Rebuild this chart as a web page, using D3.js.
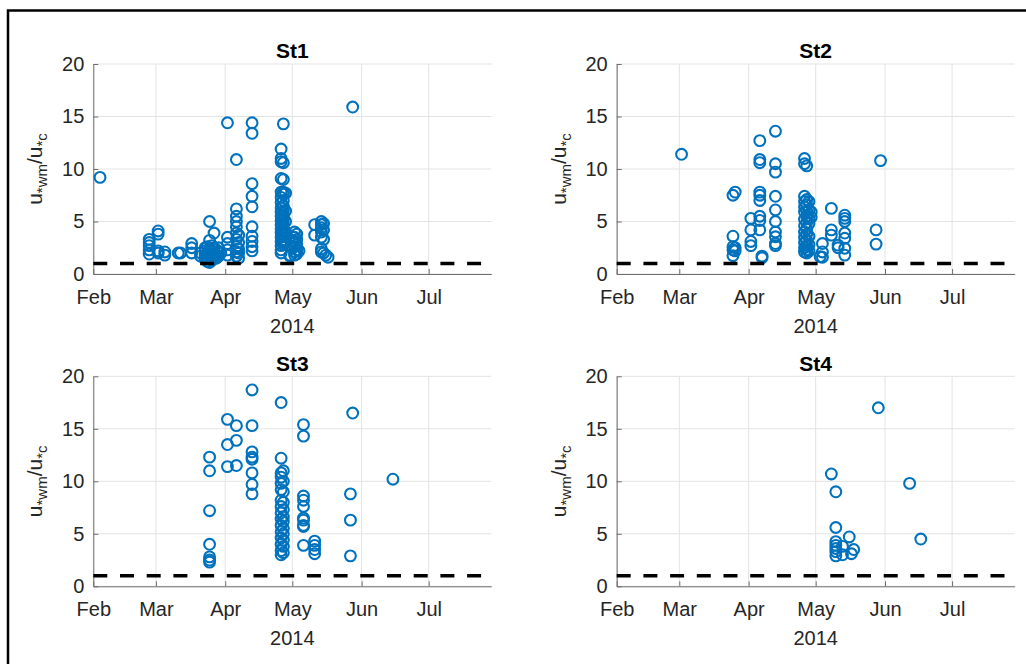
<!DOCTYPE html>
<html>
<head>
<meta charset="utf-8">
<script src="https://cdn.jsdelivr.net/npm/d3@7"></script>
<style>
  body { margin: 0; background: #fff; }
  svg { display: block; font-family: "Liberation Sans", Arial, Helvetica, sans-serif; }
</style>
</head>
<body>
<svg id="chart"></svg>
<script>
// tick labels / ranges
const monthTicks = ["2014-02-01", "2014-03-01", "2014-04-01", "2014-05-01", "2014-06-01", "2014-07-01"];
const xStart = "2014-02-01";
const xEnd = "2014-07-29";
const yTicks = [0, 5, 10, 15, 20];
const threshold = 1;
const stationNames = ["St1", "St2", "St3", "St4"];

// St1
const st1Dates = [
  "2014-02-04",
  "2014-02-26", "2014-02-26", "2014-02-26", "2014-02-26", "2014-02-26",
  "2014-03-02", "2014-03-02", "2014-03-02", "2014-03-02",
  "2014-03-05", "2014-03-05",
  "2014-03-11", "2014-03-12",
  "2014-03-17", "2014-03-17", "2014-03-17",
  "2014-03-21", "2014-03-21",
  "2014-03-23", "2014-03-23", "2014-03-23", "2014-03-23",
  "2014-03-24", "2014-03-24", "2014-03-24", "2014-03-24",
  "2014-03-25", "2014-03-25", "2014-03-25", "2014-03-25", "2014-03-25", "2014-03-25",
  "2014-03-26", "2014-03-26", "2014-03-26", "2014-03-26",
  "2014-03-27", "2014-03-27", "2014-03-27", "2014-03-27",
  "2014-03-28", "2014-03-28", "2014-03-28",
  "2014-03-29", "2014-03-29", "2014-03-29",
  "2014-03-30",
  "2014-04-02", "2014-04-02", "2014-04-02", "2014-04-02", "2014-04-02",
  "2014-04-06", "2014-04-06", "2014-04-06", "2014-04-06", "2014-04-06", "2014-04-06", "2014-04-06", "2014-04-06", "2014-04-06", "2014-04-06",
  "2014-04-07", "2014-04-07", "2014-04-07", "2014-04-07", "2014-04-07",
  "2014-04-13", "2014-04-13", "2014-04-13", "2014-04-13", "2014-04-13", "2014-04-13", "2014-04-13", "2014-04-13", "2014-04-13", "2014-04-13",
  "2014-04-26", "2014-04-26", "2014-04-26", "2014-04-26", "2014-04-26", "2014-04-26", "2014-04-26", "2014-04-26", "2014-04-26", "2014-04-26",
  "2014-04-26", "2014-04-26", "2014-04-26", "2014-04-26", "2014-04-26", "2014-04-26", "2014-04-26", "2014-04-26", "2014-04-26",
  "2014-04-27", "2014-04-27", "2014-04-27", "2014-04-27", "2014-04-27", "2014-04-27", "2014-04-27", "2014-04-27",
  "2014-04-27", "2014-04-27", "2014-04-27", "2014-04-27", "2014-04-27", "2014-04-27", "2014-04-27", "2014-04-27",
  "2014-04-28", "2014-04-28", "2014-04-28", "2014-04-28", "2014-04-28",
  "2014-04-30", "2014-04-30",
  "2014-05-01", "2014-05-01",
  "2014-05-02", "2014-05-02", "2014-05-02", "2014-05-02", "2014-05-02", "2014-05-02",
  "2014-05-03", "2014-05-03", "2014-05-03", "2014-05-03", "2014-05-03",
  "2014-05-04",
  "2014-05-11", "2014-05-11",
  "2014-05-14", "2014-05-14", "2014-05-14", "2014-05-14", "2014-05-14", "2014-05-14", "2014-05-14",
  "2014-05-15", "2014-05-15", "2014-05-15", "2014-05-15",
  "2014-05-16", "2014-05-17",
  "2014-05-28"
];
const st1Values = [
  9.2,
  3.3, 3.0, 2.7, 2.3, 1.9,
  4.1, 3.8, 2.2, 2.0,
  2.1, 1.8,
  2.0, 2.0,
  2.9, 2.5, 2.0,
  2.0, 1.7,
  2.5, 2.2, 1.8, 1.4,
  2.6, 2.0, 1.6, 1.2,
  5.0, 3.2, 2.4, 1.9, 1.5, 1.1,
  2.7, 2.2, 1.7, 1.3,
  3.9, 2.5, 2.0, 1.6,
  2.3, 1.8, 1.5,
  2.5, 2.1, 1.7,
  2.0,
  14.4, 3.5, 2.9, 2.3, 1.8,
  10.9, 6.2, 5.5, 5.0, 4.5, 3.9, 3.3, 2.6, 2.1, 1.7,
  3.7, 3.0, 2.4, 2.0, 1.5,
  14.4, 13.4, 8.6, 7.4, 6.4, 4.5, 3.6, 3.1, 2.6, 2.2,
  11.9, 11.0, 10.7, 9.1, 7.8, 7.3, 6.8, 6.3, 5.9, 5.5,
  5.1, 4.7, 4.3, 3.9, 3.5, 3.1, 2.7, 2.3, 2.0,
  14.3, 10.6, 9.0, 7.8, 7.6, 7.0, 6.5, 6.0,
  5.6, 5.2, 4.8, 4.4, 4.0, 3.6, 3.2, 2.8,
  7.7, 6.0, 5.0, 4.0, 3.0,
  1.8, 1.7,
  3.2, 2.5,
  4.0, 3.5, 3.1, 2.6, 2.1, 1.8,
  3.8, 3.3, 2.8, 2.3, 1.9,
  2.2,
  4.7, 3.7,
  5.0, 4.7, 4.4, 4.0, 3.5, 2.4, 2.1,
  4.8, 4.2, 3.3, 2.0,
  1.8, 1.6,
  15.9
];

// St2
const st2Dates = [
  "2014-03-02",
  "2014-03-25", "2014-03-25", "2014-03-25", "2014-03-25", "2014-03-25",
  "2014-03-26", "2014-03-26", "2014-03-26",
  "2014-04-02", "2014-04-02", "2014-04-02", "2014-04-02",
  "2014-04-06", "2014-04-06", "2014-04-06", "2014-04-06", "2014-04-06", "2014-04-06", "2014-04-06", "2014-04-06", "2014-04-06",
  "2014-04-07", "2014-04-07",
  "2014-04-13", "2014-04-13", "2014-04-13", "2014-04-13", "2014-04-13", "2014-04-13", "2014-04-13", "2014-04-13", "2014-04-13", "2014-04-13",
  "2014-04-26", "2014-04-26", "2014-04-26", "2014-04-26", "2014-04-26", "2014-04-26", "2014-04-26",
  "2014-04-26", "2014-04-26", "2014-04-26", "2014-04-26", "2014-04-26", "2014-04-26",
  "2014-04-27", "2014-04-27", "2014-04-27", "2014-04-27", "2014-04-27", "2014-04-27",
  "2014-04-27", "2014-04-27", "2014-04-27", "2014-04-27", "2014-04-27", "2014-04-27",
  "2014-04-28", "2014-04-28", "2014-04-28", "2014-04-28", "2014-04-28", "2014-04-28", "2014-04-28",
  "2014-04-29", "2014-04-29",
  "2014-05-03", "2014-05-04", "2014-05-04", "2014-05-04",
  "2014-05-08", "2014-05-08", "2014-05-08",
  "2014-05-11", "2014-05-11",
  "2014-05-14", "2014-05-14", "2014-05-14", "2014-05-14", "2014-05-14", "2014-05-14", "2014-05-14",
  "2014-05-28", "2014-05-28",
  "2014-05-30"
];
const st2Values = [
  11.4,
  7.5, 3.6, 2.6, 2.3, 1.75,
  7.8, 2.5, 2.2,
  5.3, 4.2, 3.1, 2.7,
  12.7, 10.9, 10.6, 7.8, 7.5, 7.0, 5.5, 5.1, 4.2,
  1.7, 1.55,
  13.6, 10.5, 9.7, 7.4, 6.1, 5.0, 4.0, 3.55, 2.9, 2.7,
  11.0, 10.5, 7.4, 6.9, 6.4, 5.9,
  5.2, 4.6, 4.0, 3.5, 3.0, 2.5, 2.1,
  10.3, 7.1, 6.6, 6.0, 5.5, 4.9,
  4.3, 3.8, 3.2, 2.7, 2.3, 2.0,
  6.9, 6.1, 5.3, 4.8, 3.6, 2.8, 2.2,
  5.9, 5.4,
  1.65, 2.9, 2.1, 1.6,
  6.25, 4.2, 3.7,
  2.75, 2.5,
  5.6, 5.3, 5.0, 3.9, 3.4, 2.45, 1.8,
  4.2, 2.85,
  10.8
];

// St3
const st3Dates = [
  "2014-03-25", "2014-03-25", "2014-03-25", "2014-03-25", "2014-03-25", "2014-03-25", "2014-03-25",
  "2014-04-02", "2014-04-02", "2014-04-02",
  "2014-04-06", "2014-04-06", "2014-04-06",
  "2014-04-13", "2014-04-13", "2014-04-13", "2014-04-13", "2014-04-13", "2014-04-13", "2014-04-13", "2014-04-13",
  "2014-04-26", "2014-04-26", "2014-04-26", "2014-04-26", "2014-04-26", "2014-04-26", "2014-04-26", "2014-04-26",
  "2014-04-26", "2014-04-26", "2014-04-26", "2014-04-26", "2014-04-26", "2014-04-26", "2014-04-26", "2014-04-26",
  "2014-04-27", "2014-04-27", "2014-04-27", "2014-04-27", "2014-04-27", "2014-04-27",
  "2014-04-27", "2014-04-27", "2014-04-27", "2014-04-27", "2014-04-27", "2014-04-27",
  "2014-05-06", "2014-05-06", "2014-05-06", "2014-05-06", "2014-05-06", "2014-05-06", "2014-05-06", "2014-05-06", "2014-05-06", "2014-05-06",
  "2014-05-11", "2014-05-11", "2014-05-11", "2014-05-11",
  "2014-05-27", "2014-05-27", "2014-05-27",
  "2014-05-28",
  "2014-06-15"
];
const st3Values = [
  12.3, 11.0, 7.2, 4.0, 2.8, 2.5, 2.3,
  15.9, 13.5, 11.4,
  15.3, 13.9, 11.5,
  18.7, 15.3, 12.8, 12.3, 12.1, 10.8, 9.7, 8.8,
  17.5, 12.2, 10.8, 10.4, 9.8, 9.2, 8.2, 7.6,
  7.0, 6.4, 5.8, 5.2, 4.6, 4.0, 3.4, 3.0,
  11.0, 10.0, 9.0, 8.0, 7.3, 6.6,
  6.2, 5.5, 5.0, 4.4, 3.8, 3.2,
  15.4, 14.3, 8.6, 8.2, 7.6, 6.5, 6.3, 5.8, 5.7, 3.9,
  4.3, 3.9, 3.5, 3.1,
  8.8, 6.3, 2.9,
  16.5,
  10.2
];

// St4
const st4Dates = [
  "2014-05-08",
  "2014-05-10", "2014-05-10", "2014-05-10", "2014-05-10", "2014-05-10", "2014-05-10", "2014-05-10",
  "2014-05-13", "2014-05-13",
  "2014-05-16", "2014-05-17", "2014-05-18",
  "2014-05-29",
  "2014-06-12",
  "2014-06-17"
];
const st4Values = [
  10.7,
  9.0, 5.6, 4.25, 3.9, 3.6, 3.3, 2.9,
  3.8, 3.0,
  4.7, 3.1, 3.5,
  17.0,
  9.8,
  4.5
];

const W = 1026, H = 664;
const parse = d3.timeParse("%Y-%m-%d");
const svg = d3.select("#chart").attr("width", W).attr("height", H);

// figure frame
svg.append("path")
  .attr("d", "M8,664V10.5H1026")
  .attr("fill", "none")
  .attr("stroke", "#000")
  .attr("stroke-width", 2.5);

const pw = 398, ph = 210;
const panels = [
  { left: 93.3, top: 64, dates: st1Dates, values: st1Values },
  { left: 616.7, top: 64, dates: st2Dates, values: st2Values },
  { left: 93.3, top: 376.3, dates: st3Dates, values: st3Values },
  { left: 616.7, top: 376.3, dates: st4Dates, values: st4Values }
];

const x = d3.scaleTime().domain([parse(xStart), parse(xEnd)]).range([0, pw]);
const y = d3.scaleLinear().domain([0, 20]).range([ph, 0]);

panels.forEach((p, i) => {
  const g = svg.append("g").attr("transform", `translate(${p.left},${p.top})`);
  const months = monthTicks.map(parse);

  // grid
  g.append("g").selectAll("line").data(months).enter().append("line")
    .attr("x1", d => x(d)).attr("x2", d => x(d))
    .attr("y1", 0).attr("y2", ph)
    .attr("stroke", "#e3e3e3").attr("stroke-width", 1);
  g.append("g").selectAll("line").data(yTicks).enter().append("line")
    .attr("x1", 0).attr("x2", pw)
    .attr("y1", d => y(d)).attr("y2", d => y(d))
    .attr("stroke", "#e3e3e3").attr("stroke-width", 1);

  // axes
  const xAxis = d3.axisBottom(x).tickValues(months).tickFormat(d3.timeFormat("%b"))
    .tickSizeInner(-5).tickSizeOuter(0).tickPadding(15.8);
  const yAxis = d3.axisLeft(y).tickValues(yTicks).tickFormat(d3.format("d"))
    .tickSizeInner(-5).tickSizeOuter(0).tickPadding(9);

  const gx = g.append("g").attr("transform", `translate(0,${ph})`).call(xAxis);
  const gy = g.append("g").call(yAxis);
  [gx, gy].forEach(a => {
    a.select(".domain").attr("stroke", "#6e6e6e");
    a.selectAll(".tick line").attr("stroke", "#6e6e6e");
    a.selectAll(".tick text").attr("fill", "#262626")
      .style("font-size", "20px").style("font-family", '"Liberation Sans", Arial, sans-serif');
  });

  // points
  const pts = p.dates.map((d, k) => ({ date: parse(d), value: p.values[k] }));
  g.append("g").selectAll("circle").data(pts).enter().append("circle")
    .attr("cx", d => x(d.date))
    .attr("cy", d => y(d.value))
    .attr("r", 5.4)
    .attr("fill", "none")
    .attr("stroke", "#0072BD")
    .attr("stroke-width", 2.1);

  // threshold line
  g.append("line")
    .attr("x1", 0).attr("x2", pw)
    .attr("y1", y(threshold)).attr("y2", y(threshold))
    .attr("stroke", "#000")
    .attr("stroke-width", 3.5)
    .attr("stroke-dasharray", "14,12.7");

  // title
  g.append("text")
    .attr("x", pw / 2).attr("y", -5.7)
    .attr("text-anchor", "middle")
    .style("font-size", "21px").style("font-weight", "bold")
    .attr("fill", "#000")
    .text(stationNames[i]);

  // year label
  g.append("text")
    .attr("x", x(parse("2014-05-01"))).attr("y", ph + 58.5)
    .attr("text-anchor", "middle")
    .style("font-size", "20px")
    .attr("fill", "#262626")
    .text("2014");

  // y label  u*wm / u*c
  const yl = g.append("text")
    .attr("transform", `translate(-51,${ph / 2}) rotate(-90)`)
    .attr("text-anchor", "middle")
    .attr("fill", "#262626")
    .style("font-size", "21px");
  yl.append("tspan").text("u");
  yl.append("tspan").attr("dy", 5).style("font-size", "15px").text("*wm");
  yl.append("tspan").attr("dy", -5).text("/u");
  yl.append("tspan").attr("dy", 5).style("font-size", "15px").text("*c");
});
</script>
</body>
</html>
